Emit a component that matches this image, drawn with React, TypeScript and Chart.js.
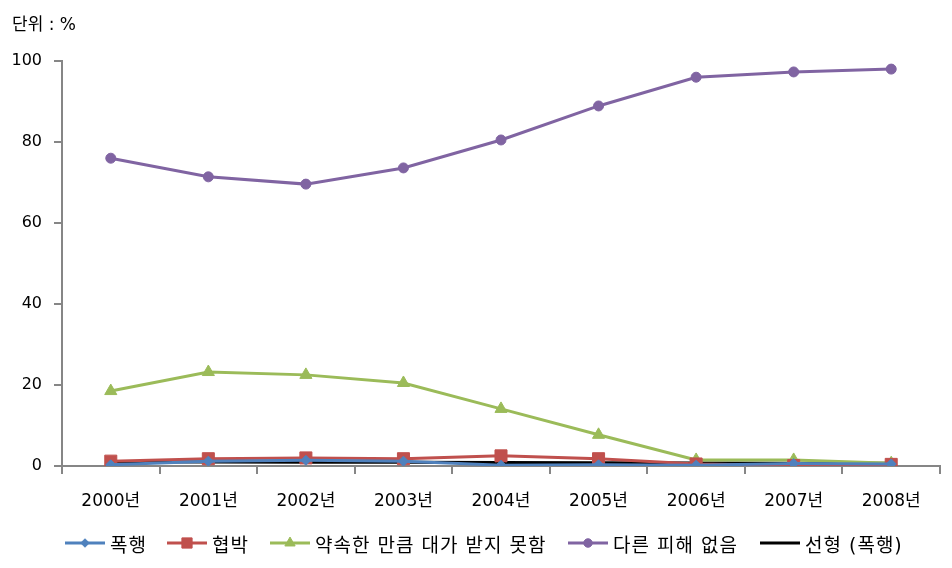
import React, { useEffect, useRef } from "react";
import { Chart, registerables } from "chart.js";

Chart.register(...registerables);

const categories = ["2000년", "2001년", "2002년", "2003년", "2004년", "2005년", "2006년", "2007년", "2008년"];
const assault = [0.3, 1.2, 1.4, 1.2, 0.2, 0.3, 0.2, 0.6, 0.5];
const threat = [1.2, 1.8, 2.0, 1.8, 2.5, 1.8, 0.5, 0.1, 0.4];
const unpaid = [18.5, 23.2, 22.5, 20.5, 14.1, 7.7, 1.5, 1.5, 0.7];
const noDamage = [76.0, 71.4, 69.6, 73.6, 80.5, 88.9, 96.0, 97.3, 98.0];
const trendAssault = [1.05, 1.0, 0.95, 0.9, 0.85, 0.8, 0.75, 0.7, 0.65];
const yTicks = [0, 20, 40, 60, 80, 100];
const unitLabel = "단위 : %";

const legendX = [65, 167, 270, 568, 760];

const FONT = '"DejaVu Sans", "Noto Sans CJK KR", sans-serif';

function drawMarker(ctx: CanvasRenderingContext2D, style: string, r: number, x: number, y: number) {
  ctx.beginPath();
  if (style === "rect") {
    const s = Math.SQRT1_2 * r;
    ctx.rect(x - s, y - s, 2 * s, 2 * s);
  } else if (style === "rectRot") {
    ctx.moveTo(x, y - r);
    ctx.lineTo(x + r, y);
    ctx.lineTo(x, y + r);
    ctx.lineTo(x - r, y);
    ctx.closePath();
  } else if (style === "triangle") {
    ctx.moveTo(x, y - r);
    ctx.lineTo(x + r * 0.866, y + r * 0.5);
    ctx.lineTo(x - r * 0.866, y + r * 0.5);
    ctx.closePath();
  } else {
    ctx.arc(x, y, r, 0, Math.PI * 2);
  }
  ctx.fill();
  ctx.stroke();
}

const legendPlugin = {
  id: "customLegend",
  afterDraw(chart: any) {
    const ctx = chart.ctx;
    ctx.save();
    ctx.fillStyle = "#000";
    ctx.font = `17px ${FONT}`;
    ctx.textBaseline = "middle";
    ctx.textAlign = "left";
    ctx.fillText(unitLabel, 12, 26);

    const lineY = 543;
    chart.data.datasets.forEach((ds: any, i: number) => {
      const x0 = legendX[i];
      ctx.strokeStyle = ds.borderColor;
      ctx.lineWidth = 3;
      ctx.beginPath();
      ctx.moveTo(x0, lineY);
      ctx.lineTo(x0 + 40, lineY);
      ctx.stroke();
      if (ds.pointRadius > 0) {
        ctx.fillStyle = ds.backgroundColor;
        ctx.strokeStyle = ds.borderColor;
        ctx.lineWidth = 1;
        drawMarker(ctx, ds.pointStyle, ds.pointRadius * 0.85, x0 + 20, lineY);
      }
      ctx.fillStyle = "#000";
      ctx.font = `19px ${FONT}`;
      ctx.textBaseline = "middle";
      try { (ctx as any).letterSpacing = "1px"; } catch (e) {}
      ctx.fillText(ds.label, x0 + 45, 547);
      try { (ctx as any).letterSpacing = "0px"; } catch (e) {}
    });
    ctx.restore();
  },
};

export default function App() {
  const ref = useRef<HTMLCanvasElement>(null);

  useEffect(() => {
    if (!ref.current) return;
    const chart = new Chart(ref.current, {
      type: "line",
      data: {
        labels: categories,
        datasets: [
          {
            label: "폭행",
            data: assault,
            borderColor: "#4F81BD",
            backgroundColor: "#4F81BD",
            borderWidth: 3,
            pointStyle: "rectRot",
            pointRadius: 5,
            pointBorderWidth: 1,
          },
          {
            label: "협박",
            data: threat,
            borderColor: "#C0504D",
            backgroundColor: "#C0504D",
            borderWidth: 3,
            pointStyle: "rect",
            pointRadius: 8.5,
            pointBorderWidth: 1,
          },
          {
            label: "약속한 만큼 대가 받지 못함",
            data: unpaid,
            borderColor: "#9BBB59",
            backgroundColor: "#9BBB59",
            borderWidth: 3,
            pointStyle: "triangle",
            pointRadius: 7,
            pointBorderWidth: 1,
          },
          {
            label: "다른 피해 없음",
            data: noDamage,
            borderColor: "#8064A2",
            backgroundColor: "#8064A2",
            borderWidth: 3,
            pointStyle: "circle",
            pointRadius: 5,
            pointBorderWidth: 1,
          },
          {
            label: "선형 (폭행)",
            data: trendAssault,
            borderColor: "#000000",
            backgroundColor: "#000000",
            borderWidth: 3,
            pointRadius: 0,
          },
        ],
      },
      options: {
        responsive: false,
        animation: false,
        layout: { padding: { left: 0, top: 61, right: 12, bottom: 42 } },
        plugins: {
          legend: { display: false },
          tooltip: { enabled: false },
          title: { display: false },
        },
        scales: {
          x: {
            offset: true,
            grid: {
              display: true,
              drawOnChartArea: false,
              offset: true,
              tickLength: 8,
              color: "#868686",
              lineWidth: 2,
            },
            border: { display: true, color: "#868686", width: 2 },
            ticks: {
              color: "#000",
              font: { family: FONT, size: 17 },
              padding: 17,
              maxRotation: 0,
              autoSkip: false,
            },
            afterFit: (s: any) => {
              s.height = 60;
            },
          },
          y: {
            min: 0,
            max: 100,
            afterBuildTicks: (s: any) => {
              s.ticks = yTicks.map((v) => ({ value: v }));
            },
            grid: {
              display: true,
              drawOnChartArea: false,
              tickLength: 8,
              color: "#868686",
              lineWidth: 2,
            },
            border: { display: true, color: "#868686", width: 2 },
            ticks: {
              color: "#000",
              font: { family: FONT, size: 16 },
              padding: 12,
            },
            afterFit: (s: any) => {
              s.width = 62;
            },
          },
        },
      },
      plugins: [legendPlugin],
    });
    return () => chart.destroy();
  }, []);

  return (
    <div style={{ position: "fixed", left: 0, top: 0, width: 952, height: 568, background: "#fff" }}>
      <canvas ref={ref} width={952} height={568} style={{ display: "block" }} />
    </div>
  );
}
